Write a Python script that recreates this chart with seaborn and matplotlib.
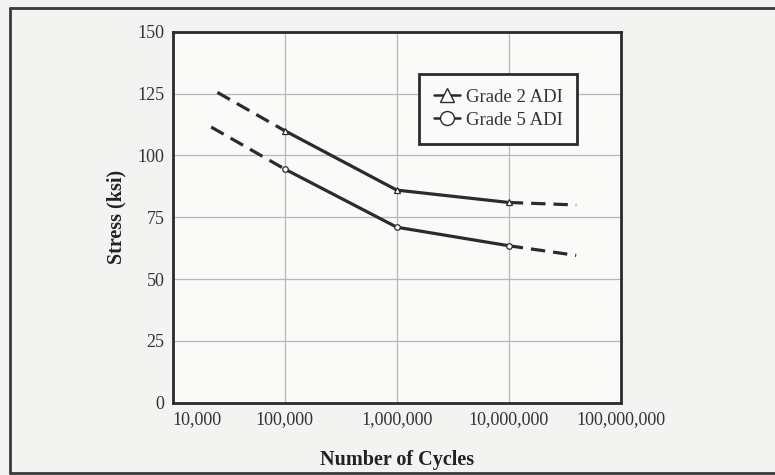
import numpy as np
import pandas as pd
import seaborn as sns
import matplotlib.pyplot as plt
from matplotlib.lines import Line2D
from matplotlib.ticker import FixedLocator, NullLocator

# measured S-N points (solid part)
cycles = [1e5, 1e6, 1e7]
grade2 = [110, 86, 81]
grade5 = [94.5, 71, 63.5]

# dashed extrapolations at both ends
ext_cycles_lo = [2.5e4, 2.2e4]   # grade 2, grade 5
ext_stress_lo = [125.5, 111.5]
ext_cycles_hi = [4e7, 4e7]
ext_stress_hi = [80, 59.6]

series_names = ["Grade 2 ADI", "Grade 5 ADI"]
series_markers = ["^", "o"]

x_ticks = [1e4, 1e5, 1e6, 1e7, 1e8]
x_ticklabels = ["10,000", "100,000", "1,000,000", "10,000,000", "100,000,000"]
y_ticks = [0, 25, 50, 75, 100, 125, 150]

sns.set_theme(style="white")
plt.rcParams["font.family"] = ["Liberation Serif", "DejaVu Serif"]

ink = "#2b2b2b"
fig = plt.figure(figsize=(7.75, 4.75), dpi=100, facecolor="#f3f3f1")
ax = fig.add_axes([0.223, 0.152, 0.578, 0.781])
ax.set_facecolor("#fafaf9")

solid = [grade2, grade5]
for i, name in enumerate(series_names):
    df = pd.DataFrame({"cycles": cycles, "stress": solid[i]})
    sns.lineplot(data=df, x="cycles", y="stress", ax=ax, color=ink, lw=2.3,
                 marker=series_markers[i], markersize=4, markerfacecolor="white",
                 markeredgecolor=ink, markeredgewidth=0.9, zorder=3)
    lo = pd.DataFrame({"cycles": [ext_cycles_lo[i], cycles[0]],
                       "stress": [ext_stress_lo[i], solid[i][0]]})
    hi = pd.DataFrame({"cycles": [cycles[-1], ext_cycles_hi[i]],
                       "stress": [solid[i][-1], ext_stress_hi[i]]})
    for seg in (lo, hi):
        sns.lineplot(data=seg, x="cycles", y="stress", ax=ax, color=ink, lw=2.3,
                     linestyle=(0, (4.5, 2.5)), zorder=2)

ax.set_xscale("log")
ax.set_xlim(1e4, 1e8)
ax.set_ylim(0, 150)
ax.xaxis.set_major_locator(FixedLocator(x_ticks))
ax.xaxis.set_minor_locator(NullLocator())
ax.set_xticklabels(x_ticklabels)
ax.set_yticks(y_ticks)
ax.tick_params(axis="both", length=0, labelsize=13, colors="#333333", pad=6)
ax.get_xticklabels()[0].set_horizontalalignment("left")

ax.grid(True, color="#b8b8b8", lw=0.9)
for s in ax.spines.values():
    s.set_color(ink)
    s.set_linewidth(2.0)

ax.set_xlabel("Number of Cycles", fontsize=14.5, fontweight="bold", color="#222222", labelpad=16)
ax.set_ylabel("Stress (ksi)", fontsize=14.5, fontweight="bold", color="#222222", labelpad=8)

handles = [Line2D([], [], color=ink, lw=1.8, marker=m, markersize=10,
                  markerfacecolor="white", markeredgecolor=ink, markeredgewidth=1.0)
           for m in series_markers]
leg = ax.legend(handles, series_names, loc="upper left", bbox_to_anchor=(0.549, 0.887),
                fontsize=13.5, frameon=True, fancybox=False, handlelength=1.4,
                handletextpad=0.3, borderpad=0.8, labelspacing=0.3, borderaxespad=0)
leg.get_frame().set_edgecolor(ink)
leg.get_frame().set_linewidth(2.0)
leg.get_frame().set_facecolor("#fafaf9")
leg.get_frame().set_alpha(1)
for t in leg.get_texts():
    t.set_color("#333333")

# outer border of the scanned figure
for xs, ys in [([0.013, 1.0], [0.983, 0.983]),
               ([0.013, 0.013], [0.004, 0.983]),
               ([0.013, 1.0], [0.004, 0.004])]:
    fig.add_artist(Line2D(xs, ys, transform=fig.transFigure, color="#3a3a3a", lw=2.0))

fig.savefig("out.png", dpi=100, facecolor=fig.get_facecolor())
